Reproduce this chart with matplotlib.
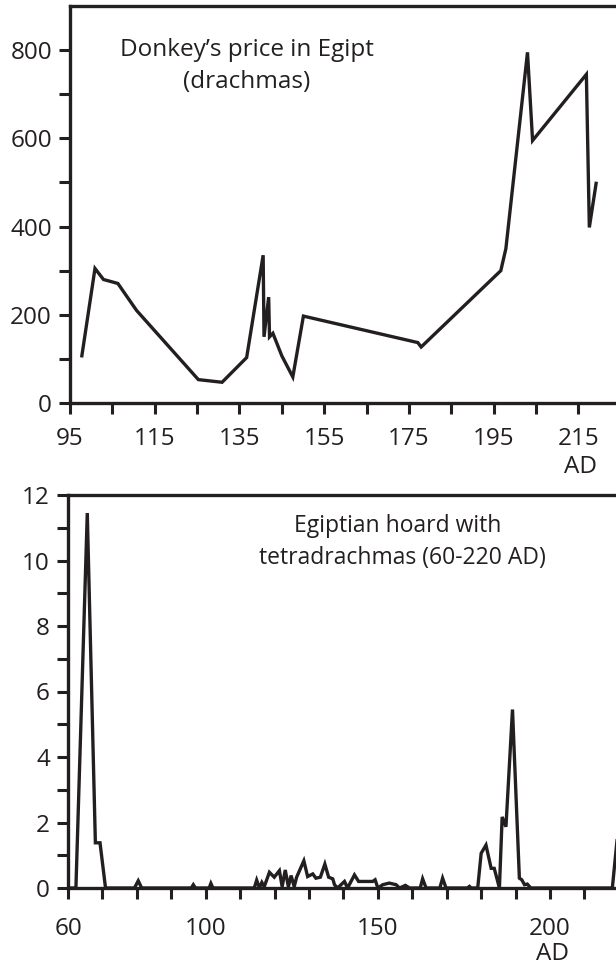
import matplotlib.pyplot as plt

plt.rcParams['font.family'] = ['Open Sans', 'DejaVu Sans']

# donkey prices in Egypt (drachmas) by year AD
donkey_year = [97.8, 100.9, 102.9, 106.3, 110.7, 125.3, 130.9, 136.7, 140.6, 140.8,
               141.9, 142.1, 142.9, 145.0, 147.6, 150.1, 177.1, 177.9, 196.7, 197.9,
               203.0, 204.2, 216.9, 217.6, 219.2]
donkey_price = [107, 305, 280, 271, 210, 53, 47, 103, 335, 150,
                240, 150, 158, 107, 59, 197, 137, 127, 300, 350,
                795, 595, 745, 398, 498]

# tetradrachmas in the Egyptian hoard, by year AD
hoard_year = [60, 62.3, 65.6, 67.95, 69.3, 70.9, 79.3, 80.4, 81.4, 95.8,
              96.4, 97.0, 101.0, 101.5, 102.1, 114.1, 114.8, 115.6, 116.3, 117.0,
              118.5, 119.9, 121.4, 122.2, 123.1, 124.0, 124.8, 125.7, 126.4, 128.5,
              129.6, 131.1, 132.0, 133.3, 134.6, 135.7, 136.9, 137.4, 138.3, 140.3,
              141.2, 143.2, 144.4, 148.5, 149.2, 150.0, 151.4, 153.3, 155.3, 156.3,
              158.0, 159.2, 162.3, 163.0, 164.0, 168.0, 168.8, 169.8, 176.0, 176.6,
              177.1, 179.0, 180.0, 181.4, 182.9, 183.8, 185.3, 186.1, 187.2, 189.1,
              191.1, 191.8, 192.6, 193.4, 194.4, 218.1, 219.6]
hoard_coins = [0, 0, 11.45, 1.38, 1.38, 0, 0, 0.22, 0, 0,
               0.1, 0, 0, 0.14, 0, 0, 0.24, 0, 0.17, 0.04,
               0.48, 0.33, 0.53, 0.04, 0.55, 0.04, 0.38, 0.04, 0.33, 0.83,
               0.35, 0.43, 0.3, 0.33, 0.73, 0.33, 0.28, 0.1, 0, 0.2,
               0, 0.4, 0.2, 0.2, 0.25, 0, 0.1, 0.15, 0.1, 0,
               0.08, 0, 0, 0.28, 0, 0, 0.3, 0, 0, 0.05,
               0, 0, 1.06, 1.31, 0.6, 0.6, 0, 2.17, 1.87, 5.45,
               0.3, 0.25, 0.1, 0.12, 0, 0, 1.6]

INK = '#231f20'
W, H = 616, 969
FS = 17.5

fig = plt.figure(figsize=(W / 100, H / 100), dpi=100)


def style(ax, xpad):
    ax.spines['right'].set_visible(False)
    for side in ('left', 'bottom', 'top'):
        ax.spines[side].set_linewidth(2.4)
        ax.spines[side].set_color(INK)
    ax.tick_params(which='both', direction='out', length=8, width=2.2,
                   color=INK, labelsize=FS, labelcolor=INK)
    ax.tick_params(axis='x', which='both', pad=xpad)
    ax.tick_params(axis='y', which='both', pad=5)


# top panel: donkey prices
ax1 = fig.add_axes([70 / W, 1 - 403 / H, 560 / W, 397 / H])
ax1.plot(donkey_year, donkey_price, color=INK, lw=2.4, solid_joinstyle='miter')
ax1.set_xlim(95, 95 + 560 / 4.236)
ax1.set_ylim(0, 900)
ax1.set_xticks(range(95, 216, 20))
ax1.set_xticks(range(105, 226, 20), minor=True)
ax1.set_yticks(range(0, 801, 200))
ax1.set_yticks(range(100, 801, 200), minor=True)
style(ax1, 9)

fig.text(247 / W, 1 - 50 / H, "Donkey\u2019s price in Egipt", ha='center', va='center',
         size=FS, color=INK)
fig.text(247 / W, 1 - 82 / H, "(drachmas)", ha='center', va='center', size=FS, color=INK)
fig.text(580 / W, 1 - 467 / H, "AD", ha='center', va='center', size=FS, color=INK)

# bottom panel: hoard
ax2 = fig.add_axes([68 / W, 1 - 888 / H, 562 / W, 393 / H])
ax2.plot(hoard_year, hoard_coins, color=INK, lw=2.4, solid_joinstyle='miter')
ax2.set_xlim(60, 60 + 562 / 3.443)
ax2.set_ylim(0, 12)
ax2.set_xticks([60, 100, 150, 200])
ax2.set_xticks([x for x in range(70, 221, 10) if x not in (100, 150, 200)], minor=True)
ax2.set_yticks(range(0, 13, 2))
ax2.set_yticks(range(1, 12, 2), minor=True)
style(ax2, 13)

fig.text(398 / W, 1 - 526 / H, "Egiptian hoard with", ha='center', va='center',
         size=16.5, color=INK)
fig.text(402 / W, 1 - 558 / H, "tetradrachmas (60-220 AD)", ha='center', va='center',
         size=16.5, color=INK)
fig.text(552 / W, 1 - 954 / H, "AD", ha='center', va='center', size=FS, color=INK)

fig.savefig('out.png', dpi=100)
